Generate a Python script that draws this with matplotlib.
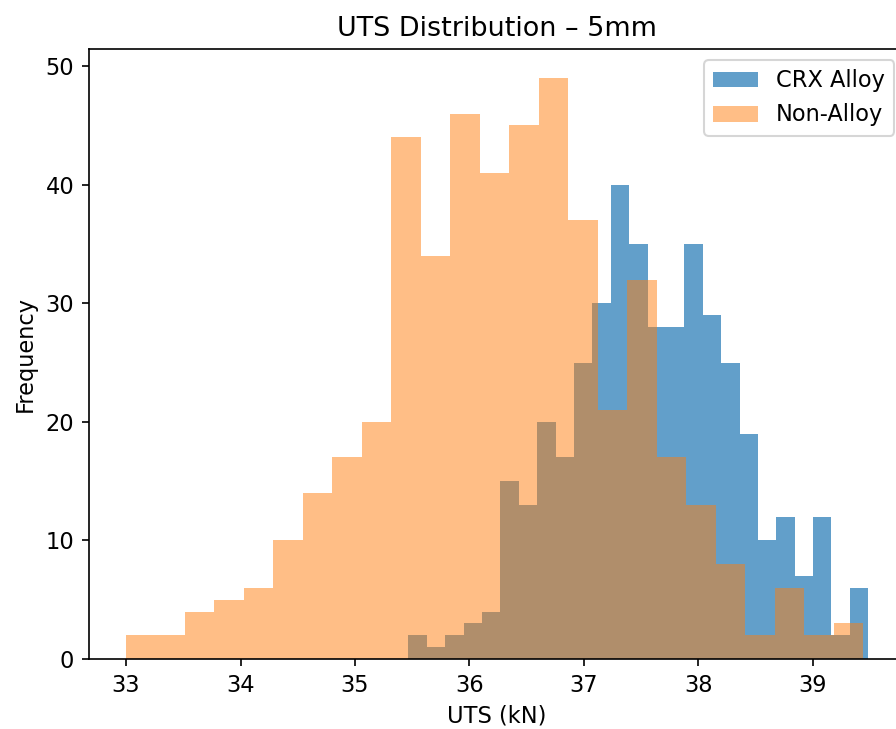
import matplotlib
matplotlib.use("Agg")
import matplotlib.pyplot as plt
import numpy as np

# histogram counts (25 bins each)
crx_range = (35.466, 39.483)
crx_counts = [2, 1, 2, 3, 4, 15, 13, 20, 17, 25, 30, 40, 35,
              28, 28, 35, 29, 25, 19, 10, 12, 7, 12, 2, 6]

non_range = (33.0, 39.44)
non_counts = [2, 2, 4, 5, 6, 10, 14, 17, 20, 44, 34, 46, 41,
              45, 49, 37, 21, 32, 17, 13, 8, 2, 6, 2, 3]

labels = ["CRX Alloy", "Non-Alloy"]

plt.rcParams["font.size"] = 10.8


def _hist(ax, rng, counts, **kw):
    edges = np.linspace(rng[0], rng[1], len(counts) + 1)
    ax.hist(edges[:-1], bins=edges, weights=counts, **kw)


fig = plt.figure(figsize=(896 / 150, 729 / 150), dpi=150)
# axes runs a little past the right edge, as in the reference crop
ax = fig.add_axes([88.9 / 896, 70 / 729, 816.5 / 896, 610 / 729])

_hist(ax, crx_range, crx_counts, alpha=0.7, label=labels[0])
_hist(ax, non_range, non_counts, alpha=0.5, label=labels[1])

ax.set_title("UTS Distribution \u2013 5mm")
ax.set_xlabel("UTS (kN)")
ax.set_ylabel("Frequency")
ax.legend(loc="upper right")

fig.savefig("out.png", dpi=150)
